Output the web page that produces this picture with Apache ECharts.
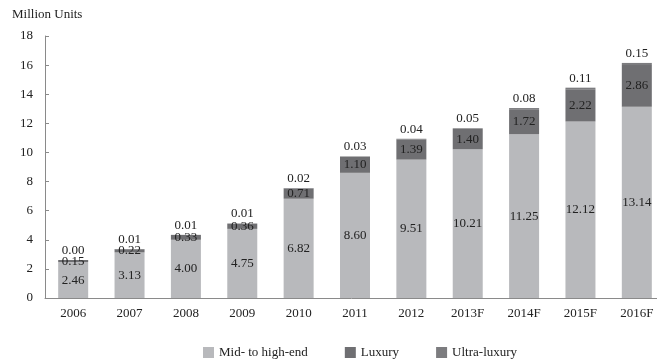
<!DOCTYPE html>
<html>
<head>
<meta charset="utf-8">
<script src="https://cdn.jsdelivr.net/npm/echarts@6/dist/echarts.min.js"></script>
<style>
  html, body { margin: 0; padding: 0; background: #fff; }
  #chart { width: 657px; height: 361px; }
</style>
</head>
<body>
<div id="chart"></div>
<script>
// Car sales by segment, million units
const years = ['2006', '2007', '2008', '2009', '2010', '2011', '2012', '2013F', '2014F', '2015F', '2016F'];
const midToHighEnd = [2.46, 3.13, 4.00, 4.75, 6.82, 8.60, 9.51, 10.21, 11.25, 12.12, 13.14];
const luxury = [0.15, 0.22, 0.33, 0.36, 0.71, 1.10, 1.39, 1.40, 1.72, 2.22, 2.86];
const ultraLuxury = [0.00, 0.01, 0.01, 0.01, 0.02, 0.03, 0.04, 0.05, 0.08, 0.11, 0.15];

const FONT = '"Liberation Serif", "DejaVu Serif", serif';
const TEXT = '#222';
const AXIS = '#8a8a8a';

const fmt = p => p.value.toFixed(2);

const chart = echarts.init(document.getElementById('chart'), null, { renderer: 'canvas' });
chart.setOption({
  animation: false,
  textStyle: { fontFamily: FONT, color: TEXT },
  title: {
    text: 'Million Units',
    left: 12, top: 8, padding: 0,
    textStyle: { fontFamily: FONT, fontSize: 13, fontWeight: 'normal', color: TEXT }
  },
  legend: {
    left: 203, top: 346, padding: 0,
    itemWidth: 11, itemHeight: 11, itemGap: 37,
    icon: 'rect',
    textStyle: { fontFamily: FONT, fontSize: 13, color: TEXT },
    data: ['Mid- to high-end', 'Luxury', 'Ultra-luxury']
  },
  grid: { left: 45, top: 36, width: 620, height: 262, containLabel: false, outerBoundsMode: 'none' },
  xAxis: {
    type: 'category',
    data: years,
    axisLine: { lineStyle: { color: AXIS, width: 1 } },
    axisTick: { inside: true, length: 5, lineStyle: { color: AXIS } },
    axisLabel: { fontFamily: FONT, fontSize: 13, color: TEXT, margin: 9 }
  },
  yAxis: {
    type: 'value',
    min: 0, max: 18, interval: 2,
    splitLine: { show: false },
    axisLine: { show: true, lineStyle: { color: AXIS, width: 1 } },
    axisTick: { show: true, inside: true, length: 4, lineStyle: { color: AXIS } },
    axisLabel: { fontFamily: FONT, fontSize: 13, color: TEXT, margin: 12 }
  },
  series: [
    {
      name: 'Mid- to high-end', type: 'bar', stack: 'total', barWidth: 30,
      data: midToHighEnd,
      itemStyle: { color: '#b8b9bc' },
      label: { show: true, position: 'inside', formatter: fmt, fontFamily: FONT, fontSize: 13, color: TEXT }
    },
    {
      name: 'Luxury', type: 'bar', stack: 'total', barWidth: 30,
      data: luxury,
      itemStyle: { color: '#6f6f72' },
      label: { show: true, position: 'inside', formatter: fmt, fontFamily: FONT, fontSize: 13, color: TEXT }
    },
    {
      name: 'Ultra-luxury', type: 'bar', stack: 'total', barWidth: 30,
      data: ultraLuxury,
      itemStyle: { color: '#7c7c7f' },
      label: { show: true, position: 'top', distance: 3, formatter: fmt, fontFamily: FONT, fontSize: 13, color: TEXT }
    }
  ]
});
</script>
</body>
</html>
